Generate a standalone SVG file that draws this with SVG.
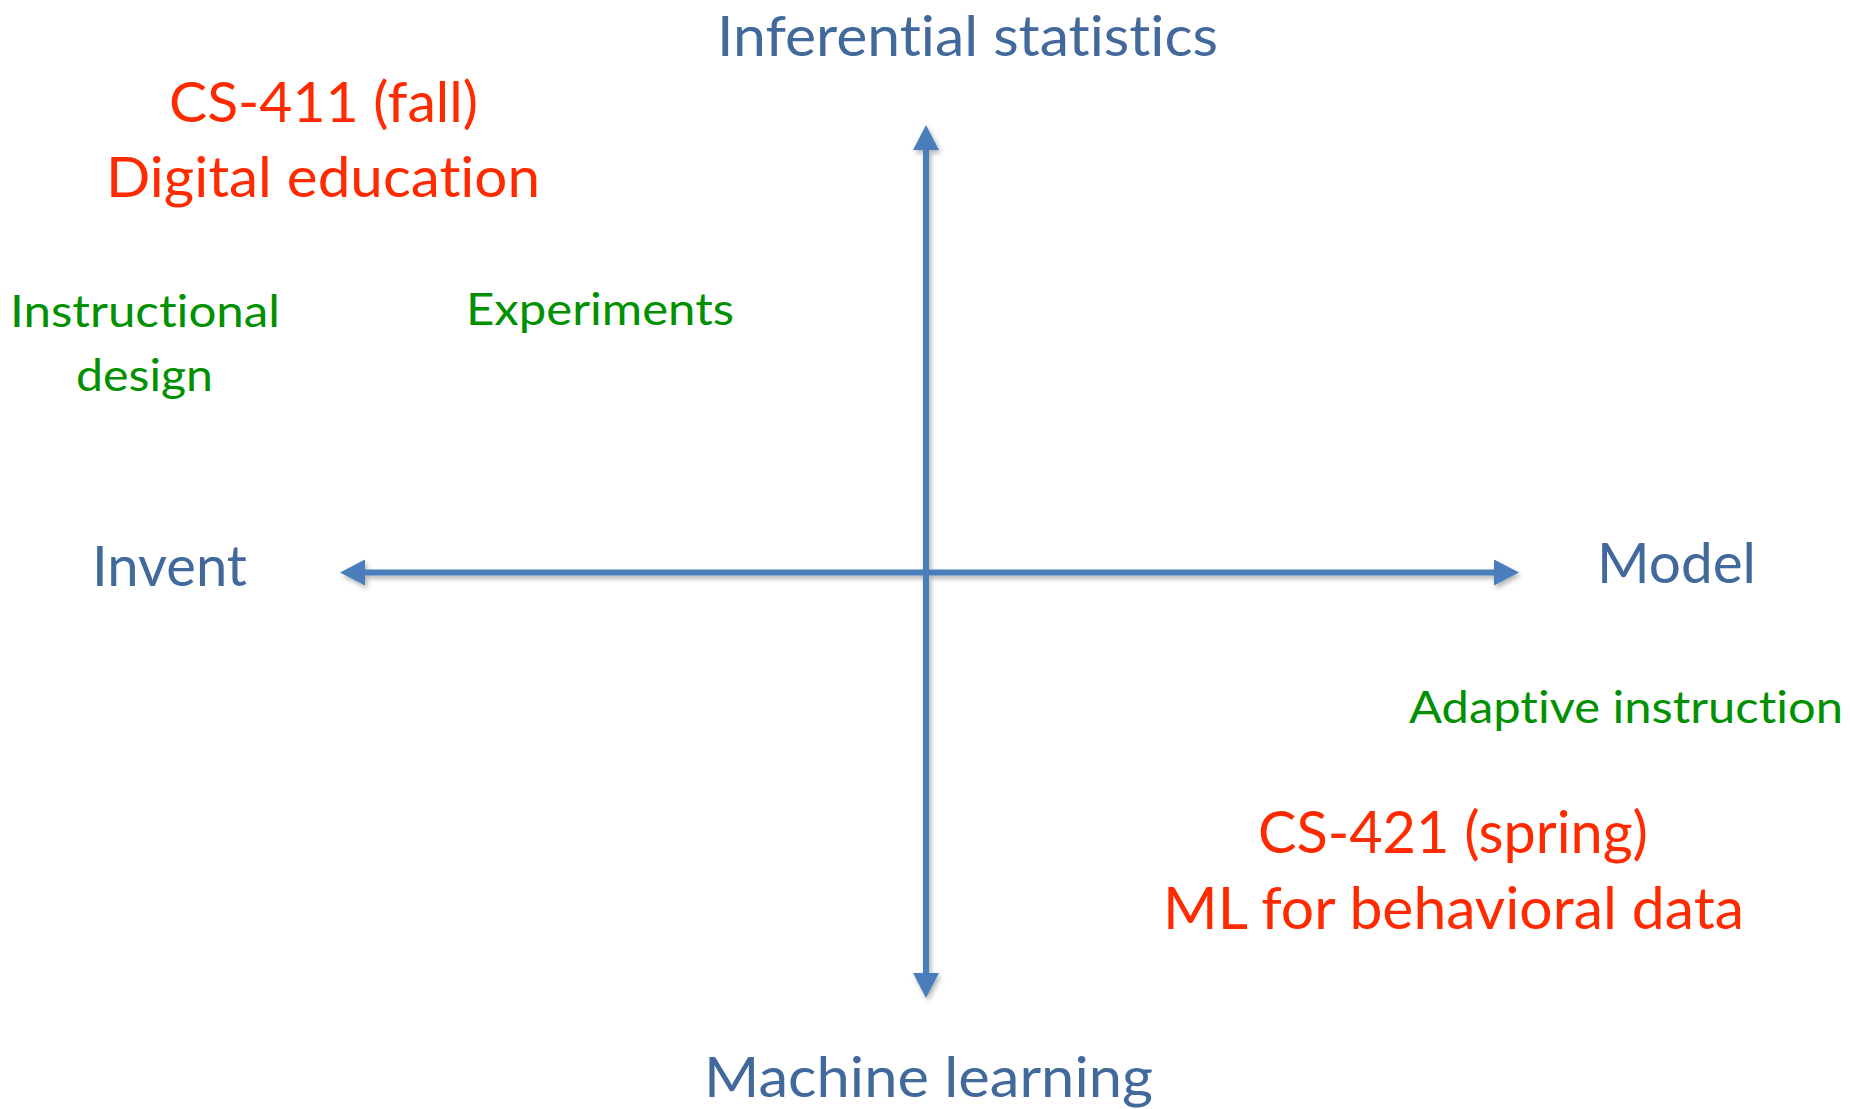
<svg xmlns="http://www.w3.org/2000/svg" width="1850" height="1109" viewBox="0 0 1850 1109">
  <style>
    text { font-family: Lato, "Open Sans", "Liberation Sans", sans-serif; font-variant-ligatures: none; }
    .axis-label { fill: #41699C; font-size: 56px; }
    .course { fill: #FF2A00; font-size: 56px; }
    .course-lg { fill: #FF2A00; font-size: 59px; }
    .topic { fill: #009000; font-size: 44px; }
    .axis { stroke: #4A7EBB; stroke-width: 6; fill: none; }
  </style>
  <defs>
    <marker id="head" viewBox="0 -13 25 26" refX="1" refY="0" markerUnits="userSpaceOnUse" markerWidth="25" markerHeight="26" orient="auto-start-reverse">
      <path d="M0,-13 L25,0 L0,13 z" fill="#4A7EBB"/>
    </marker>
    <filter id="shadow" x="-5%" y="-5%" width="110%" height="110%">
      <feDropShadow dx="2" dy="3" stdDeviation="2.5" flood-color="#000" flood-opacity="0.3"/>
    </filter>
  </defs>

  <rect width="1850" height="1109" fill="#FFFFFF"/>

  <!-- axes -->
  <g id="connectors" filter="url(#shadow)">
    <line class="axis" x1="364" y1="572.5" x2="1495" y2="572.5" marker-start="url(#head)" marker-end="url(#head)"/>
    <line class="axis" x1="926" y1="149" x2="926" y2="974" marker-start="url(#head)" marker-end="url(#head)"/>
  </g>

  <!-- axis ends -->
  <g id="inferential-statistics">
    <text class="axis-label" x="717" y="56" font-size="58" textLength="501" lengthAdjust="spacingAndGlyphs">Inferential statistics</text>
  </g>
  <g id="machine-learning">
    <text class="axis-label" x="704" y="1097" textLength="449" lengthAdjust="spacingAndGlyphs">Machine learning</text>
  </g>
  <g id="invent">
    <text class="axis-label" x="92" y="586" textLength="155" lengthAdjust="spacingAndGlyphs">Invent</text>
  </g>
  <g id="model">
    <text class="axis-label" x="1597" y="583" textLength="159" lengthAdjust="spacingAndGlyphs">Model</text>
  </g>

  <!-- courses -->
  <g id="cs-411">
    <text class="course" x="169" y="122" textLength="309" lengthAdjust="spacingAndGlyphs">CS-411 (fall)</text>
    <text class="course" x="106" y="197" textLength="434" lengthAdjust="spacingAndGlyphs">Digital education</text>
  </g>
  <g id="cs-421">
    <text class="course-lg" x="1258" y="853" textLength="390" lengthAdjust="spacingAndGlyphs">CS-421 (spring)</text>
    <text class="course-lg" x="1163" y="929" textLength="581" lengthAdjust="spacingAndGlyphs">ML for behavioral data</text>
  </g>

  <!-- topics -->
  <g id="instructional-design">
    <text class="topic" x="10" y="327" textLength="270" lengthAdjust="spacingAndGlyphs">Instructional</text>
    <text class="topic" x="76" y="391" textLength="137" lengthAdjust="spacingAndGlyphs">design</text>
  </g>
  <g id="experiments">
    <text class="topic" x="466" y="325" textLength="268" lengthAdjust="spacingAndGlyphs">Experiments</text>
  </g>
  <g id="adaptive-instruction">
    <text class="topic" x="1409" y="723" textLength="434" lengthAdjust="spacingAndGlyphs">Adaptive instruction</text>
  </g>
</svg>
